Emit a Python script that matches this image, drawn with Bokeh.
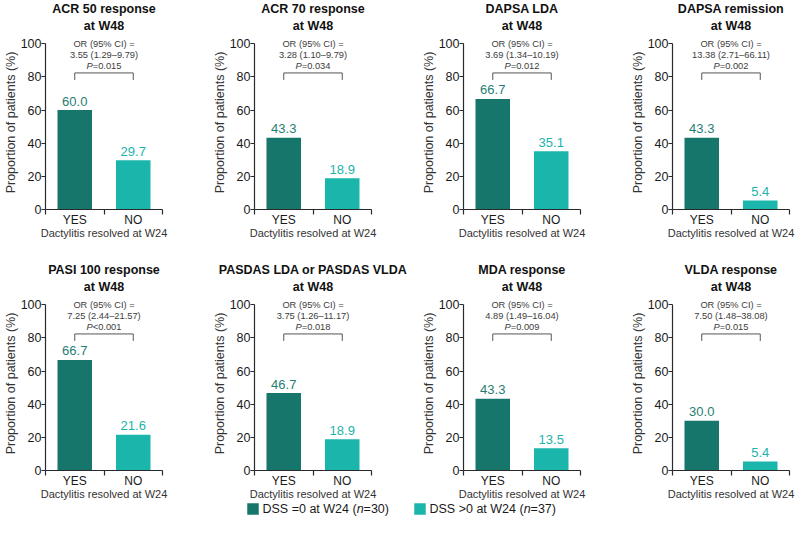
from bokeh.plotting import figure
from bokeh.layouts import column, row
from bokeh.models import Range1d, FixedTicker, Title, ColumnDataSource
from bokeh.core.properties import value
from bokeh.embed import file_html
from bokeh.resources import INLINE

# ---- data -------------------------------------------------------------
title_line1 = ["ACR 50 response", "ACR 70 response", "DAPSA LDA", "DAPSA remission",
               "PASI 100 response", "PASDAS LDA or PASDAS VLDA", "MDA response",
               "VLDA response"]
title_line2 = ["at W48"] * 8
categories = ["YES", "NO"]
resolved = [60.0, 43.3, 66.7, 43.3, 66.7, 46.7, 43.3, 30.0]        # DSS = 0 at W24
not_resolved = [29.7, 18.9, 35.1, 5.4, 21.6, 18.9, 13.5, 5.4]     # DSS > 0 at W24
odds_ratio = ["3.55 (1.29\u20139.79)", "3.28 (1.10\u20139.79)", "3.69 (1.34\u201310.19)",
              "13.38 (2.71\u201366.11)", "7.25 (2.44\u201321.57)", "3.75 (1.26\u201311.17)",
              "4.89 (1.49\u201316.04)", "7.50 (1.48\u201338.08)"]
p_values = ["=0.015", "=0.034", "=0.012", "=0.002", "<0.001", "=0.018", "=0.009", "=0.015"]
y_ticks = [0, 20, 40, 60, 80, 100]
legend_labels = [("DSS =0 at W24 (", "n", "=30)"), ("DSS >0 at W24 (", "n", "=37)")]

# ---- style ------------------------------------------------------------
FONT = "Liberation Sans"
DARK = "#17766B"
LIGHT = "#1AB5AB"
DARK_TXT = "#1F7E72"
LIGHT_TXT = "#21B3A9"
AXIS = "#2a2a2a"
ANN = "#3c3c3c"
FS_ANN = 9.3

# category centres on a 0..2 axis, boundaries for the tick marks
centres = [i + 0.5 for i in range(len(categories))]
bounds = list(range(len(categories) + 1))


def title(text, standoff):
    return Title(text=text, align="center", text_font=FONT, text_font_size="12.5px",
                 text_font_style="bold", text_color="#111111", standoff=standoff)


def panel(i, width, height, border_right, border_bottom):
    p = figure(width=width, height=height, output_backend="svg", toolbar_location=None,
               x_range=Range1d(0, len(categories)), y_range=Range1d(0, 105))
    p.min_border = 0
    p.min_border_left = 42
    p.min_border_right = border_right
    p.min_border_top = 35
    p.min_border_bottom = border_bottom
    p.outline_line_color = None
    p.grid.visible = False
    p.background_fill_color = "white"
    p.border_fill_color = "white"

    # two-line title: the lower line is added first so it sits next to the frame
    p.add_layout(title(title_line2[i], 5), "above")
    p.add_layout(title(title_line1[i], -2), "above")

    src = ColumnDataSource(dict(
        x=centres,
        top=[resolved[i], not_resolved[i]],
        color=[DARK, LIGHT],
        tcolor=[DARK_TXT, LIGHT_TXT],
        label=[f"{resolved[i]:.1f}", f"{not_resolved[i]:.1f}"],
    ))
    p.vbar(x="x", top="top", width=0.59, bottom=0, fill_color="color",
           line_color=None, source=src)
    p.text(x="x", y="top", text="label", text_color="tcolor", text_align="center",
           text_baseline="middle", y_offset=-9, text_font=value(FONT),
           text_font_size="13px", source=src)

    # odds ratio annotation and bracket between the two bars
    mid = sum(centres) / len(centres)
    p.text(x=[mid, mid], y=[100, 100], text=["OR (95% CI) =", odds_ratio[i]],
           y_offset=[0, 11], text_align="center", text_baseline="middle",
           text_font=value(FONT), text_font_size=f"{FS_ANN}px", text_color=ANN)
    split = -1.21 * FS_ANN
    p.text(x=[mid], y=[100], text=["P"], x_offset=split, y_offset=22,
           text_align="right", text_baseline="middle", text_font=value(FONT),
           text_font_style="italic", text_font_size=f"{FS_ANN}px", text_color=ANN)
    p.text(x=[mid], y=[100], text=[p_values[i]], x_offset=split, y_offset=22,
           text_align="left", text_baseline="middle", text_font=value(FONT),
           text_font_size=f"{FS_ANN}px", text_color=ANN)
    p.line(x=[centres[0], centres[0], centres[-1], centres[-1]],
           y=[78.2, 82.4, 82.4, 78.2], line_color="#555555", line_width=1)

    # axes
    xa = p.xaxis[0]
    xa.ticker = FixedTicker(ticks=centres, minor_ticks=bounds)
    xa.major_label_overrides = {c: lab for c, lab in zip(centres, categories)}
    xa.major_tick_out = 0
    xa.major_tick_in = 0
    xa.minor_tick_out = 5
    xa.minor_tick_in = 0
    xa.minor_tick_line_color = AXIS
    xa.minor_tick_line_width = 1.2
    xa.axis_line_color = AXIS
    xa.axis_line_width = 1.2
    xa.major_label_standoff = -2
    xa.major_label_text_font = FONT
    xa.major_label_text_font_size = "12px"
    xa.major_label_text_color = "#1a1a1a"
    xa.axis_label = "Dactylitis resolved at W24"
    xa.axis_label_standoff = -3
    xa.axis_label_text_font = FONT
    xa.axis_label_text_font_size = "11px"
    xa.axis_label_text_font_style = "normal"
    xa.axis_label_text_color = "#333333"

    ya = p.yaxis[0]
    ya.ticker = FixedTicker(ticks=y_ticks)
    ya.bounds = (0, 100)
    ya.major_tick_out = 4
    ya.major_tick_in = 0
    ya.minor_tick_out = 0
    ya.minor_tick_in = 0
    ya.major_tick_line_color = AXIS
    ya.major_tick_line_width = 1.2
    ya.axis_line_color = AXIS
    ya.axis_line_width = 1.2
    ya.major_label_standoff = 0
    ya.major_label_text_font = FONT
    ya.major_label_text_font_size = "12.5px"
    ya.major_label_text_color = "#1a1a1a"
    ya.axis_label = "Proportion of patients (%)"
    ya.axis_label_standoff = 0
    ya.axis_label_text_font = FONT
    ya.axis_label_text_font_size = "12.5px"
    ya.axis_label_text_font_style = "normal"
    ya.axis_label_text_color = "#333333"
    return p


top = [panel(i, 209 if i < 3 else 173, 261, 47 if i < 3 else 11, 52) for i in range(4)]
bottom = [panel(i, 209 if i < 7 else 173, 241, 47 if i < 7 else 11, 32) for i in range(4, 8)]

# legend strip with two swatches; "n" set in italics
LEG_H = 33
leg = figure(width=800, height=LEG_H, output_backend="svg", toolbar_location=None,
             x_range=Range1d(0, 800), y_range=Range1d(0, LEG_H),
             x_axis_type=None, y_axis_type=None)
leg.min_border = 0
leg.outline_line_color = None
leg.grid.visible = False
LEG_FS = 12.5
pre_w = 7.531 * LEG_FS
n_w = 0.556 * LEG_FS
swatch_x = [252.5, 419.5]
leg_y = LEG_H - 6.5
leg.scatter(x=swatch_x, y=[leg_y, leg_y], marker="square", size=11.5,
            fill_color=[DARK, LIGHT], line_color=None)
for sx, (pre, it, post) in zip(swatch_x, legend_labels):
    x0 = sx + 9.5
    leg.text(x=[x0], y=[leg_y], text=[pre], text_align="left", text_baseline="middle",
             text_font=value(FONT), text_font_size=f"{LEG_FS}px", text_color="#1a1a1a")
    leg.text(x=[x0 + pre_w], y=[leg_y], text=[it], text_align="left", text_baseline="middle",
             text_font=value(FONT), text_font_size=f"{LEG_FS}px", text_font_style="italic",
             text_color="#1a1a1a")
    leg.text(x=[x0 + pre_w + n_w], y=[leg_y], text=[post], text_align="left",
             text_baseline="middle", text_font=value(FONT), text_font_size=f"{LEG_FS}px",
             text_color="#1a1a1a")

layout = column(row(*top, spacing=0), row(*bottom, spacing=0), leg, spacing=0)
open("out.html", "w").write(file_html(layout, INLINE))
